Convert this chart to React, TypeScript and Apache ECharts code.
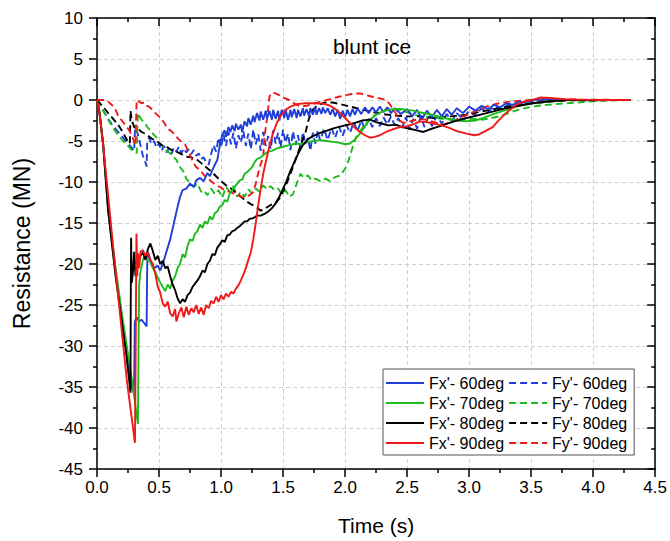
import React, { useEffect, useRef } from 'react';
import * as echarts from 'echarts';

const FONT = '"Liberation Sans", Arial, Helvetica, sans-serif';

const names = [
  "Fx'- 60deg", "Fx'- 70deg", "Fx'- 80deg", "Fx'- 90deg",
  "Fy'- 60deg", "Fy'- 70deg", "Fy'- 80deg", "Fy'- 90deg",
];

const fx60: number[][] = [
  [0,0],[0.02,-1.5],[0.05,-5.5],[0.09,-13.5],[0.15,-21],[0.2,-26.5],[0.25,-32],[0.28,-35],[0.295,-35.7],[0.30,-34],[0.305,-27],[0.32,-26.5],[0.34,-27],[0.36,-26.8],[0.38,-27.2],[0.40,-27.6],[0.405,-20],[0.41,-18.5],[0.43,-19.5],[0.46,-20.5],[0.49,-20.2],[0.51,-20.8],[0.54,-19.5],[0.57,-18],[0.59,-17],[0.62,-15],[0.65,-13],[0.67,-11.8],[0.69,-11],[0.72,-10.8],[0.75,-10.2],[0.78,-10.6],[0.80,-9.8],[0.83,-9.5],[0.86,-9.9],[0.89,-8.9],[0.91,-9.3],[0.94,-8.2],[0.97,-7.3],[0.99,-5.5],[1.01,-4.2],[1.03,-3.7],[1.04,-4.5],[1.06,-3.3],[1.075,-3.9],[1.09,-3.1],[1.11,-3.8],[1.12,-2.9],[1.14,-3.6],[1.16,-3.0],[1.17,-3.9],[1.19,-2.6],[1.21,-3.2],[1.22,-2.2],[1.24,-3.0],[1.26,-1.9],[1.27,-2.7],[1.29,-1.6],[1.31,-2.5],[1.32,-1.4],[1.34,-2.4],[1.36,-1.3],[1.37,-2.3],[1.39,-1.3],[1.41,-2.4],[1.42,-1.2],[1.44,-2.3],[1.46,-1.3],[1.47,-2.5],[1.49,-1.2],[1.51,-2.2],[1.52,-1.1],[1.54,-2.4],[1.56,-1.2],[1.57,-2.1],[1.59,-1.1],[1.61,-2.2],[1.62,-1.2],[1.64,-2.0],[1.66,-1.0],[1.67,-1.9],[1.69,-1.1],[1.71,-2.0],[1.72,-1.0],[1.74,-1.8],[1.76,-0.9],[1.77,-1.8],[1.79,-1.0],[1.81,-1.7],[1.82,-0.9],[1.84,-1.6],[1.86,-1.0],[1.88,-1.8],[1.90,-1.1],[1.92,-2.0],[1.94,-1.2],[1.96,-2.3],[1.98,-1.3],[2.0,-2.1],[2.02,-1.2],[2.04,-2.0],[2.06,-1.1],[2.08,-1.8],[2.10,-1.0],[2.13,-1.7],[2.16,-0.9],[2.19,-1.6],[2.22,-0.9],[2.25,-1.5],[2.28,-0.8],[2.31,-1.5],[2.34,-0.9],[2.37,-1.6],[2.40,-1.0],[2.45,-1.7],[2.50,-1.1],[2.54,-2.0],[2.58,-1.2],[2.62,-2.3],[2.66,-1.3],[2.70,-2.1],[2.74,-1.2],[2.78,-2.0],[2.82,-1.1],[2.86,-1.8],[2.90,-1.0],[2.95,-1.6],[3.00,-0.8],[3.05,-1.3],[3.10,-0.7],[3.15,-1.1],[3.20,-0.6],[3.25,-0.9],[3.30,-0.4],[3.35,-0.6],[3.40,-0.2],[3.45,-0.3],[3.50,0],[3.6,0.1],[3.8,0],[4.0,0],[4.3,0],
];

const fx70: number[][] = [
  [0,0],[0.02,-1.5],[0.05,-5.5],[0.09,-13],[0.15,-20.5],[0.2,-26],[0.25,-31],[0.29,-35],[0.32,-38.5],[0.33,-39.5],[0.335,-30],[0.34,-22.5],[0.35,-21],[0.37,-19.5],[0.39,-18.7],[0.41,-19.5],[0.43,-19.8],[0.45,-20.5],[0.47,-21],[0.50,-22],[0.53,-22.8],[0.55,-23.3],[0.57,-22.5],[0.59,-23.0],[0.61,-22.0],[0.63,-21.5],[0.65,-20.5],[0.67,-20.0],[0.69,-18.8],[0.71,-19.2],[0.73,-17.8],[0.75,-17.0],[0.77,-17.2],[0.79,-16.3],[0.81,-16.0],[0.83,-15.2],[0.85,-15.6],[0.87,-14.8],[0.89,-15.1],[0.91,-14.2],[0.93,-14.6],[0.95,-13.8],[0.97,-13.6],[0.99,-13.0],[1.01,-12.8],[1.03,-12.2],[1.05,-12.4],[1.07,-11.4],[1.09,-11.0],[1.11,-10.6],[1.13,-10.2],[1.15,-9.8],[1.17,-9.7],[1.19,-9.0],[1.21,-8.8],[1.23,-8.5],[1.25,-8.2],[1.27,-7.6],[1.29,-7.2],[1.32,-7.0],[1.35,-6.6],[1.38,-6.3],[1.41,-6.2],[1.45,-5.9],[1.50,-5.7],[1.55,-5.5],[1.60,-5.3],[1.65,-5.4],[1.70,-5.1],[1.75,-5.0],[1.80,-4.9],[1.85,-5.0],[1.90,-5.1],[1.95,-5.2],[2.00,-5.4],[2.04,-5.3],[2.08,-4.8],[2.12,-4.1],[2.16,-3.2],[2.20,-2.4],[2.25,-1.8],[2.30,-1.4],[2.35,-1.2],[2.40,-1.1],[2.45,-1.1],[2.50,-1.2],[2.55,-1.3],[2.60,-1.5],[2.70,-1.8],[2.80,-2.2],[2.90,-2.5],[2.98,-2.6],[3.05,-2.5],[3.11,-2.2],[3.20,-1.7],[3.30,-1.2],[3.40,-0.7],[3.51,-0.4],[3.65,-0.15],[3.78,0],[4.0,0],[4.3,0],
];

const fx80: number[][] = [
  [0,0],[0.02,-1.5],[0.05,-5.5],[0.09,-13.5],[0.15,-21.5],[0.2,-27],[0.24,-31.5],[0.27,-35.7],[0.272,-25],[0.275,-16.8],[0.28,-22.3],[0.29,-21],[0.30,-18.5],[0.31,-21.5],[0.32,-19.5],[0.33,-20.2],[0.35,-19.0],[0.37,-18.6],[0.39,-19.5],[0.41,-18.2],[0.43,-17.5],[0.45,-18.4],[0.47,-19.5],[0.49,-19.0],[0.51,-20.0],[0.53,-19.6],[0.55,-20.5],[0.57,-20.3],[0.59,-21.5],[0.61,-22.5],[0.63,-23.2],[0.65,-24.2],[0.67,-24.8],[0.69,-24.3],[0.71,-24.6],[0.73,-23.8],[0.75,-23.5],[0.77,-22.8],[0.79,-22.4],[0.81,-22.0],[0.83,-21.5],[0.85,-20.8],[0.87,-21.0],[0.89,-20.0],[0.91,-19.6],[0.93,-18.8],[0.95,-18.9],[0.97,-18.0],[0.99,-17.6],[1.01,-17.1],[1.03,-17.3],[1.05,-16.5],[1.07,-16.4],[1.09,-16.0],[1.11,-15.9],[1.13,-15.6],[1.15,-15.4],[1.17,-15.1],[1.19,-14.8],[1.21,-14.8],[1.23,-14.5],[1.26,-14.4],[1.29,-14.1],[1.32,-14.1],[1.35,-13.9],[1.38,-13.6],[1.41,-13.2],[1.44,-12.6],[1.47,-11.8],[1.50,-10.8],[1.53,-9.8],[1.56,-8.6],[1.59,-7.6],[1.62,-6.6],[1.66,-5.5],[1.70,-4.8],[1.74,-4.4],[1.80,-4.0],[1.86,-3.7],[1.92,-3.4],[2.00,-3.1],[2.08,-2.8],[2.14,-2.5],[2.20,-2.4],[2.25,-2.7],[2.30,-2.9],[2.35,-3.1],[2.41,-3.0],[2.46,-3.3],[2.52,-3.5],[2.58,-3.7],[2.63,-3.9],[2.68,-3.6],[2.74,-3.3],[2.80,-3.0],[2.88,-2.6],[2.98,-2.2],[3.06,-1.9],[3.14,-1.6],[3.22,-1.3],[3.30,-1.0],[3.40,-0.7],[3.51,-0.4],[3.65,-0.15],[3.8,0],[4.3,0],
];

const fx90: number[][] = [
  [0,0],[0.02,-1.6],[0.05,-5.5],[0.078,-9.8],[0.13,-17.9],[0.185,-26],[0.24,-34.1],[0.306,-41.8],[0.312,-30],[0.318,-16.3],[0.325,-21.5],[0.33,-18.7],[0.34,-20.5],[0.35,-18.5],[0.37,-18.3],[0.39,-19.0],[0.41,-18.6],[0.43,-19.5],[0.45,-20.0],[0.47,-21.2],[0.49,-22.8],[0.51,-23.5],[0.53,-24.8],[0.55,-25.2],[0.57,-24.6],[0.59,-26.0],[0.61,-26.4],[0.63,-25.5],[0.64,-27.0],[0.66,-26.0],[0.68,-25.3],[0.70,-26.5],[0.72,-25.2],[0.74,-26.2],[0.76,-25.4],[0.78,-25.9],[0.80,-25.0],[0.82,-26.1],[0.84,-25.3],[0.86,-26.2],[0.88,-25.0],[0.90,-25.4],[0.92,-24.5],[0.94,-24.8],[0.96,-24.0],[0.98,-24.6],[1.00,-23.8],[1.02,-24.3],[1.04,-23.6],[1.06,-24.0],[1.08,-23.4],[1.10,-23.6],[1.12,-23.0],[1.14,-22.6],[1.16,-22.0],[1.18,-21.3],[1.20,-20.5],[1.22,-19.5],[1.24,-18.6],[1.26,-17.0],[1.28,-15.0],[1.30,-12.8],[1.32,-10.8],[1.34,-9.0],[1.36,-7.6],[1.39,-5.6],[1.42,-4.0],[1.45,-2.8],[1.48,-1.9],[1.52,-1.2],[1.56,-0.8],[1.61,-0.5],[1.68,-0.4],[1.77,-0.4],[1.84,-0.5],[1.88,-0.7],[1.92,-1.1],[1.96,-1.6],[2.00,-2.2],[2.04,-2.8],[2.08,-3.4],[2.12,-3.9],[2.16,-4.3],[2.20,-4.6],[2.24,-4.5],[2.28,-4.3],[2.33,-3.9],[2.38,-3.6],[2.44,-3.3],[2.50,-3.2],[2.56,-2.9],[2.60,-2.6],[2.66,-2.7],[2.72,-2.9],[2.78,-3.1],[2.84,-3.4],[2.90,-3.8],[2.98,-4.1],[3.04,-4.3],[3.08,-4.2],[3.13,-3.8],[3.19,-3.3],[3.23,-2.6],[3.27,-2.0],[3.32,-1.3],[3.38,-0.6],[3.44,-0.2],[3.51,0.0],[3.57,0.3],[3.65,0.25],[3.78,0.1],[3.9,0.05],[4.1,0],[4.3,0],
];

const fy60: number[][] = [
  [0,0],[0.04,-1.0],[0.09,-2.3],[0.13,-3.2],[0.17,-3.9],[0.21,-4.6],[0.25,-5.3],[0.28,-5.8],[0.30,-6.2],[0.305,-4.0],[0.31,-3.4],[0.33,-4.2],[0.35,-5.5],[0.37,-6.8],[0.39,-7.6],[0.40,-8.1],[0.405,-5.0],[0.42,-4.6],[0.44,-5.4],[0.46,-5.0],[0.48,-5.8],[0.50,-5.3],[0.52,-6.2],[0.54,-5.6],[0.56,-6.4],[0.58,-5.9],[0.60,-6.6],[0.62,-5.8],[0.64,-6.3],[0.66,-5.7],[0.68,-6.5],[0.70,-5.9],[0.72,-6.4],[0.74,-6.0],[0.76,-6.6],[0.78,-6.1],[0.80,-6.8],[0.82,-6.5],[0.84,-7.2],[0.86,-7.0],[0.88,-7.6],[0.90,-7.9],[0.92,-6.6],[0.94,-5.5],[0.96,-6.3],[0.98,-4.6],[1.00,-5.8],[1.02,-4.2],[1.04,-5.6],[1.06,-3.9],[1.08,-5.4],[1.10,-4.0],[1.12,-5.9],[1.14,-4.3],[1.16,-5.2],[1.18,-3.8],[1.20,-5.6],[1.22,-4.1],[1.24,-6.0],[1.26,-3.6],[1.28,-5.4],[1.30,-4.2],[1.32,-6.2],[1.34,-3.9],[1.36,-5.6],[1.38,-4.4],[1.40,-6.0],[1.42,-3.7],[1.44,-5.3],[1.46,-4.0],[1.48,-5.8],[1.50,-3.6],[1.52,-5.2],[1.54,-4.1],[1.56,-6.1],[1.58,-3.8],[1.60,-5.5],[1.62,-4.3],[1.64,-5.9],[1.66,-3.9],[1.68,-5.4],[1.70,-4.6],[1.72,-6.2],[1.74,-4.0],[1.76,-5.3],[1.78,-3.8],[1.80,-5.0],[1.83,-3.5],[1.86,-4.9],[1.89,-3.4],[1.92,-4.6],[1.95,-3.2],[1.98,-4.4],[2.01,-3.0],[2.04,-4.0],[2.07,-2.7],[2.10,-3.8],[2.13,-2.5],[2.16,-3.5],[2.19,-2.3],[2.22,-3.3],[2.25,-2.2],[2.28,-3.2],[2.31,-2.1],[2.34,-3.0],[2.37,-2.0],[2.40,-3.1],[2.43,-2.2],[2.46,-3.4],[2.49,-2.1],[2.52,-3.6],[2.55,-2.3],[2.58,-3.5],[2.61,-2.0],[2.64,-3.3],[2.67,-2.1],[2.70,-3.2],[2.74,-1.9],[2.78,-2.9],[2.82,-1.7],[2.86,-2.6],[2.90,-1.6],[2.95,-2.3],[3.00,-1.3],[3.05,-1.9],[3.10,-1.0],[3.15,-1.5],[3.20,-0.8],[3.26,-1.1],[3.32,-0.5],[3.38,-0.7],[3.46,-0.2],[3.55,-0.1],[3.7,0],[4.3,0],
];

const fy70: number[][] = [
  [0,0],[0.04,-1],[0.09,-2.4],[0.13,-3.4],[0.17,-4.3],[0.21,-5.0],[0.25,-5.6],[0.28,-6.1],[0.32,-6.5],[0.325,-4.0],[0.33,-1.6],[0.35,-2.2],[0.37,-2.6],[0.39,-2.9],[0.41,-3.4],[0.43,-3.7],[0.45,-4.1],[0.48,-4.6],[0.50,-5.2],[0.53,-5.6],[0.56,-6.2],[0.59,-6.5],[0.62,-7.0],[0.64,-7.3],[0.67,-8.2],[0.70,-8.8],[0.72,-9.6],[0.75,-10.1],[0.78,-10.6],[0.81,-10.2],[0.84,-11.2],[0.86,-11.0],[0.89,-11.6],[0.92,-10.8],[0.95,-11.5],[0.98,-11.0],[1.01,-11.9],[1.04,-10.6],[1.07,-11.2],[1.10,-10.5],[1.13,-11.8],[1.16,-11.2],[1.19,-11.8],[1.22,-10.9],[1.25,-11.4],[1.28,-10.8],[1.31,-11.2],[1.34,-10.4],[1.37,-10.9],[1.40,-10.5],[1.43,-11.0],[1.46,-10.8],[1.49,-11.5],[1.52,-11.0],[1.55,-11.8],[1.58,-11.5],[1.61,-10.2],[1.64,-9.0],[1.67,-9.5],[1.70,-9.2],[1.73,-9.8],[1.76,-9.6],[1.80,-9.9],[1.84,-9.6],[1.88,-9.9],[1.92,-9.4],[1.96,-9.2],[2.00,-8.4],[2.03,-7.3],[2.06,-5.8],[2.09,-4.5],[2.12,-3.8],[2.15,-3.2],[2.19,-2.5],[2.23,-1.9],[2.28,-1.5],[2.33,-1.2],[2.38,-1.1],[2.44,-1.2],[2.50,-1.5],[2.56,-1.8],[2.62,-2.0],[2.70,-2.1],[2.78,-2.3],[2.86,-2.4],[2.94,-2.3],[3.02,-2.3],[3.11,-2.4],[3.18,-2.2],[3.24,-2.0],[3.30,-1.7],[3.35,-1.4],[3.42,-1.1],[3.51,-0.8],[3.62,-0.6],[3.78,-0.4],[3.92,-0.25],[4.05,-0.1],[4.3,0],
];

const fy80: number[][] = [
  [0,0],[0.03,-0.5],[0.06,-1.0],[0.09,-1.6],[0.13,-2.3],[0.17,-3.0],[0.21,-4.0],[0.25,-5.1],[0.265,-5.3],[0.27,-1.3],[0.28,-2.5],[0.30,-3.3],[0.33,-3.5],[0.36,-3.9],[0.40,-4.2],[0.44,-4.7],[0.48,-5.0],[0.52,-5.5],[0.56,-5.7],[0.60,-6.1],[0.64,-6.3],[0.68,-6.6],[0.72,-6.9],[0.76,-7.0],[0.80,-7.2],[0.84,-7.7],[0.88,-8.2],[0.92,-8.7],[0.96,-9.3],[1.00,-9.9],[1.04,-10.4],[1.08,-10.8],[1.12,-11.3],[1.16,-11.8],[1.20,-12.3],[1.24,-12.7],[1.28,-13.0],[1.32,-13.5],[1.36,-13.2],[1.40,-12.8],[1.44,-12.6],[1.48,-11.8],[1.52,-10.5],[1.56,-9.0],[1.60,-7.3],[1.64,-5.6],[1.68,-4.0],[1.71,-2.2],[1.74,-1.2],[1.78,-0.6],[1.84,-0.3],[1.90,-0.3],[1.96,-0.5],[2.04,-0.8],[2.12,-1.1],[2.20,-1.4],[2.30,-1.7],[2.40,-1.9],[2.50,-2.0],[2.60,-2.0],[2.71,-2.2],[2.85,-2.0],[2.98,-1.8],[3.10,-1.4],[3.24,-1.0],[3.38,-0.6],[3.51,-0.4],[3.65,-0.2],[3.8,-0.05],[4.3,0],
];

const fy90: number[][] = [
  [0,0],[0.06,0],[0.09,-0.2],[0.12,-0.6],[0.15,-1.2],[0.17,-1.9],[0.20,-2.5],[0.23,-3.1],[0.26,-3.7],[0.28,-4.3],[0.31,-5.5],[0.315,-2.5],[0.32,0],[0.34,-0.2],[0.36,-0.4],[0.38,-0.3],[0.40,-0.7],[0.42,-0.8],[0.44,-1.1],[0.47,-1.6],[0.50,-2.0],[0.52,-2.3],[0.55,-3.0],[0.57,-3.5],[0.60,-3.8],[0.63,-4.3],[0.66,-4.8],[0.68,-5.1],[0.71,-5.4],[0.74,-6.4],[0.78,-7.7],[0.80,-8.2],[0.83,-8.5],[0.86,-9.1],[0.88,-9.4],[0.92,-9.9],[0.96,-10.4],[0.99,-10.6],[1.03,-11.0],[1.07,-11.2],[1.10,-11.4],[1.14,-11.6],[1.18,-11.9],[1.21,-11.8],[1.24,-11.5],[1.26,-11.2],[1.28,-10.2],[1.30,-8.9],[1.32,-7.8],[1.34,-6.9],[1.35,-4.5],[1.37,-2.4],[1.39,0.4],[1.41,0.9],[1.44,0.8],[1.47,0.6],[1.50,0.3],[1.55,0.0],[1.60,-0.5],[1.64,-0.8],[1.69,-0.7],[1.74,-0.5],[1.80,-0.2],[1.88,0.1],[1.95,0.4],[2.01,0.6],[2.07,0.8],[2.12,0.8],[2.17,0.6],[2.22,0.4],[2.28,0.2],[2.33,0.0],[2.36,-0.5],[2.39,-1.2],[2.42,-1.9],[2.44,-2.5],[2.47,-2.8],[2.50,-2.7],[2.55,-2.5],[2.60,-2.3],[2.65,-2.4],[2.70,-2.6],[2.76,-2.9],[2.80,-3.0],[2.86,-2.6],[2.92,-2.2],[2.98,-1.8],[3.06,-1.3],[3.14,-0.8],[3.24,-0.4],[3.35,-0.15],[3.5,0],[3.7,0.1],[3.9,0.05],[4.3,0],
];

const colors = ['#1f3fd6', '#1dbb1d', '#000000', '#f01818'];
const DASH = [7, 4];

export default function App() {
  const ref = useRef<HTMLDivElement>(null);
  useEffect(() => {
    const chart = echarts.init(ref.current as HTMLDivElement, undefined, { renderer: 'svg' });
    const solids = [fx60, fx70, fx80, fx90];
    const dashes = [fy60, fy70, fy80, fy90];
    const series: any[] = [];
    dashes.forEach((d, i) => {
      series.push({
        name: names[i + 4], type: 'line', data: d, symbol: 'none', showSymbol: false,
        lineStyle: { color: colors[i], width: 1.9, type: DASH }, itemStyle: { color: colors[i] },
        z: 2,
      });
    });
    solids.forEach((d, i) => {
      series.push({
        name: names[i], type: 'line', data: d, symbol: 'none', showSymbol: false,
        lineStyle: { color: colors[i], width: 1.9 }, itemStyle: { color: colors[i] },
        z: 3,
      });
    });
    const axisLine = { show: true, onZero: false, lineStyle: { color: '#000', width: 1.5 } };
    const split = { show: true, lineStyle: { color: '#cfcfcf', width: 1, type: [4, 3] } };
    chart.setOption({
      animation: false,
      textStyle: { fontFamily: FONT },
      grid: { left: 97, top: 18, width: 559, height: 451, containLabel: false },
      xAxis: [
        {
          type: 'value', min: 0, max: 4.5, interval: 0.5, position: 'bottom',
          axisLine, splitLine: split,
          axisTick: { show: true, inside: false, length: 8, lineStyle: { color: '#000', width: 1.5 } },
          minorTick: { show: true, splitNumber: 2, length: 4, lineStyle: { color: '#000', width: 1.5 } },
          axisLabel: { fontSize: 17, color: '#000', margin: 10, fontFamily: FONT, formatter: (v: number) => v.toFixed(1) },
          name: 'Time (s)', nameLocation: 'middle', nameGap: 46,
          nameTextStyle: { fontSize: 21, color: '#000', fontFamily: FONT },
        },
        {
          type: 'value', min: 0, max: 4.5, interval: 0.5, position: 'top',
          axisLine, splitLine: { show: false },
          axisTick: { show: true, inside: true, length: 8, lineStyle: { color: '#000', width: 1.5 } },
          minorTick: { show: true, splitNumber: 2, length: 4, lineStyle: { color: '#000', width: 1.5 } },
          axisLabel: { show: false },
        },
      ],
      yAxis: [
        {
          type: 'value', min: -45, max: 10, interval: 5, position: 'left',
          axisLine, splitLine: split,
          axisTick: { show: true, inside: false, length: 8, lineStyle: { color: '#000', width: 1.5 } },
          minorTick: { show: true, splitNumber: 2, length: 4, lineStyle: { color: '#000', width: 1.5 } },
          axisLabel: { fontSize: 17, color: '#000', margin: 14, fontFamily: FONT },
          name: 'Resistance (MN)', nameLocation: 'middle', nameGap: 64,
          nameTextStyle: { fontSize: 23, color: '#000', fontFamily: FONT },
        },
        {
          type: 'value', min: -45, max: 10, interval: 5, position: 'right',
          axisLine, splitLine: { show: false },
          axisTick: { show: true, inside: true, length: 8, lineStyle: { color: '#000', width: 1.5 } },
          minorTick: { show: true, splitNumber: 2, length: 4, lineStyle: { color: '#000', width: 1.5 } },
          axisLabel: { show: false },
        },
      ],
      legend: {
        data: names,
        orient: 'vertical',
        left: 383, top: 369, height: 82,
        itemWidth: 38, itemHeight: 12, itemGap: 4,
        padding: [6, 7, 4, 2],
        borderColor: '#555', borderWidth: 1, backgroundColor: '#fff',
        itemStyle: { opacity: 0 },
        textStyle: { fontSize: 16, color: '#000', fontFamily: FONT },
      },
      graphic: [
        {
          type: 'text', x: 372, y: 46, z: 10,
          style: { text: 'blunt ice', fontSize: 21, fontFamily: FONT, fill: '#000', align: 'center', verticalAlign: 'middle' },
        },
      ],
      series,
    });
    return () => chart.dispose();
  }, []);
  return <div ref={ref} style={{ position: 'absolute', left: 0, top: 0, width: 670, height: 541 }} />;
}
